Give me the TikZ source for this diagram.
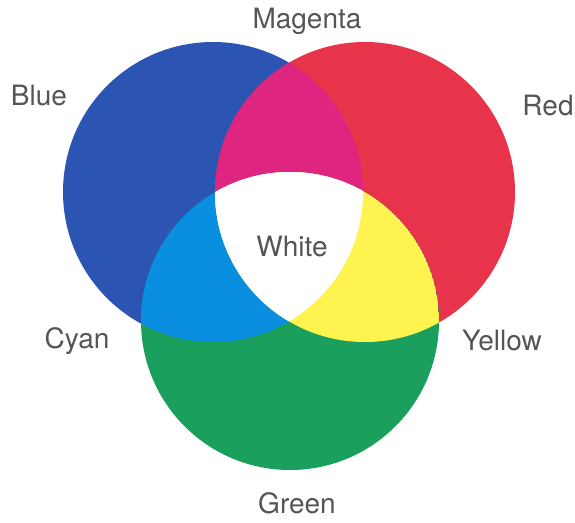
\documentclass[tikz,border=0pt]{standalone}
\usepackage{fontspec}
\setmainfont{TeX Gyre Heros}
\definecolor{cBlue}{RGB}{44,84,178}
\definecolor{cRed}{RGB}{232,52,74}
\definecolor{cGreen}{RGB}{26,160,92}
\definecolor{cMagenta}{RGB}{222,38,128}
\definecolor{cCyan}{RGB}{10,142,224}
\definecolor{cYellow}{RGB}{255,243,80}
\definecolor{cText}{RGB}{85,85,85}
\begin{document}
\begin{tikzpicture}[x=1pt,y=-1pt,
  lbl/.style={text=cText,font=\fontsize{28}{30}\selectfont,inner sep=0pt,anchor=center}]
\useasboundingbox (0,0) rectangle (575,522);
\fill[white] (0,0) rectangle (575,522);
\def\pB{(213,192) circle[radius=150]}
\def\pR{(365,192) circle[radius=150]}
\def\pG{(290,321) circle[radius=149]}
\fill[cBlue] \pB;
\fill[cRed] \pR;
\fill[cGreen] \pG;
\begin{scope}
  \clip \pB;
  \fill[cMagenta] \pR;
  \fill[cCyan] \pG;
  \clip \pR;
  \fill[white] \pG;
\end{scope}
\begin{scope}
  \clip \pR;
  \clip \pG;
  \fill[cYellow] \pG;
  \clip \pB;
  \fill[white] \pG;
\end{scope}
\node[lbl] (magenta) at (307,21) {Magenta};
\node[lbl] (blue) at (39,96) {Blue};
\node[lbl] (red) at (548,106) {Red};
\node[lbl] (white) at (292,247) {White};
\node[lbl] (cyan) at (77,341) {Cyan};
\node[lbl] (yellow) at (502,340) {Yellow};
\node[lbl] (green) at (297,503) {Green};
\end{tikzpicture}
\end{document}
